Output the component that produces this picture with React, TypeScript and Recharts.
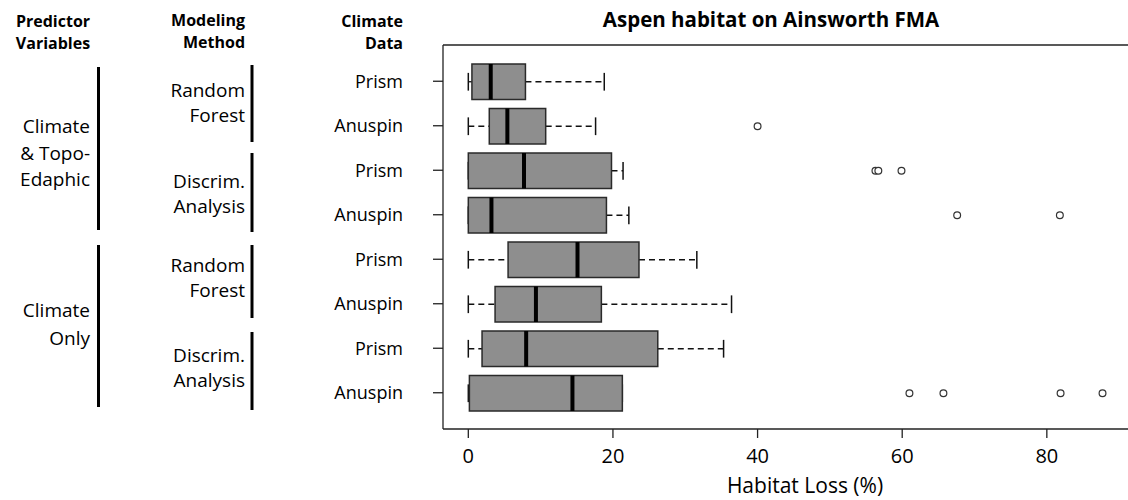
import React from 'react';
import { ComposedChart, Bar, XAxis, YAxis, CartesianGrid } from 'recharts';

// one row per model run, top to bottom
const rowIds = ['r1', 'r2', 'r3', 'r4', 'r5', 'r6', 'r7', 'r8'];
const climateData = ['Prism', 'Anuspin', 'Prism', 'Anuspin', 'Prism', 'Anuspin', 'Prism', 'Anuspin'];

// habitat loss (%) box statistics
const lowWhisker = [0, 0, 0, 0, 0, 0, 0, 0];
const lowerQuartile = [0.5, 2.9, 0, 0, 5.5, 3.7, 1.9, 0.15];
const medians = [3.1, 5.4, 7.7, 3.2, 15.1, 9.35, 8.0, 14.4];
const upperQuartile = [7.9, 10.7, 19.8, 19.1, 23.6, 18.4, 26.2, 21.3];
const highWhisker = [18.8, 17.6, 21.4, 22.2, 31.6, 36.4, 35.3, 21.3];
const outliers: number[][] = [
  [],
  [40.0],
  [56.3, 56.7, 59.9],
  [67.6, 81.8],
  [],
  [],
  [],
  [61.0, 65.7, 81.9, 87.7],
];

const xTicks = [0, 20, 40, 60, 80];
const xDomain = [-3.5, 91.5];

const FONT = '"Open Sans", sans-serif';

const rows = rowIds.map((id, i) => ({
  id,
  label: climateData[i],
  box: [lowerQuartile[i], upperQuartile[i]],
  lo: lowWhisker[i],
  q1: lowerQuartile[i],
  med: medians[i],
  q3: upperQuartile[i],
  hi: highWhisker[i],
  out: outliers[i],
}));

const labelById: Record<string, string> = {};
rows.forEach((r) => (labelById[r.id] = r.label));

// the bar gives us pixel positions of q1 and q3; everything else is placed on the same linear scale
function BoxShape(props: any) {
  const { x, y, width, height } = props;
  const d = props.payload ?? props;
  const px = (v: number) => x + ((v - d.q1) / (d.q3 - d.q1)) * width;
  const cy = y + height / 2;
  const cap = height / 4;
  return (
    <g>
      <line x1={px(d.lo)} x2={px(d.q1)} y1={cy} y2={cy} stroke="#111" strokeWidth={1.3} strokeDasharray="6 4" />
      <line x1={px(d.q3)} x2={px(d.hi)} y1={cy} y2={cy} stroke="#111" strokeWidth={1.3} strokeDasharray="6 4" />
      <line x1={px(d.lo)} x2={px(d.lo)} y1={cy - cap} y2={cy + cap} stroke="#111" strokeWidth={1.5} />
      <line x1={px(d.hi)} x2={px(d.hi)} y1={cy - cap} y2={cy + cap} stroke="#111" strokeWidth={1.5} />
      <rect x={x} y={y} width={width} height={height} fill="#8e8e8e" stroke="#2a2a2a" strokeWidth={1.5} />
      <line x1={px(d.med)} x2={px(d.med)} y1={y} y2={y + height} stroke="#000" strokeWidth={4} />
      {d.out.map((v: number, k: number) => (
        <circle key={k} cx={px(v)} cy={cy} r={3.4} fill="#fff" stroke="#333" strokeWidth={1.2} />
      ))}
    </g>
  );
}

function Annotations() {
  const reg = { fontFamily: FONT, fontSize: 19, fill: '#000' };
  const bold = { fontFamily: FONT, fontSize: 16, fontWeight: 700, fill: '#000' };
  return (
    <svg
      width={1128}
      height={500}
      style={{ position: 'absolute', left: 0, top: 0, pointerEvents: 'none' }}
    >
      <text x={771} y={27} textAnchor="middle" style={{ ...bold, fontSize: 20.5 }}>
        Aspen habitat on Ainsworth FMA
      </text>
      <text x={805} y={493} textAnchor="middle" style={{ ...reg, fontSize: 21 }}>
        Habitat Loss (%)
      </text>

      <text x={53} y={27} textAnchor="middle" style={bold}>Predictor</text>
      <text x={53} y={49} textAnchor="middle" style={bold}>Variables</text>
      <text x={245} y={26} textAnchor="end" style={bold}>Modeling</text>
      <text x={245} y={48} textAnchor="end" style={bold}>Method</text>
      <text x={403} y={27} textAnchor="end" style={bold}>Climate</text>
      <text x={403} y={49} textAnchor="end" style={bold}>Data</text>

      <text x={90} y={133} textAnchor="end" style={reg}>Climate</text>
      <text x={90} y={160} textAnchor="end" style={reg}>&amp; Topo-</text>
      <text x={90} y={186} textAnchor="end" style={reg}>Edaphic</text>
      <text x={90} y={317} textAnchor="end" style={reg}>Climate</text>
      <text x={90} y={345} textAnchor="end" style={reg}>Only</text>

      <text x={245} y={97} textAnchor="end" style={reg}>Random</text>
      <text x={245} y={122} textAnchor="end" style={reg}>Forest</text>
      <text x={245} y={188} textAnchor="end" style={reg}>Discrim.</text>
      <text x={245} y={213} textAnchor="end" style={reg}>Analysis</text>
      <text x={245} y={272} textAnchor="end" style={reg}>Random</text>
      <text x={245} y={297} textAnchor="end" style={reg}>Forest</text>
      <text x={245} y={362} textAnchor="end" style={reg}>Discrim.</text>
      <text x={245} y={387} textAnchor="end" style={reg}>Analysis</text>

      <g stroke="#000" strokeWidth={3}>
        <line x1={98.5} x2={98.5} y1={67} y2={230} />
        <line x1={98.5} x2={98.5} y1={245} y2={407} />
        <line x1={252} x2={252} y1={65} y2={142} />
        <line x1={252} x2={252} y1={153} y2={232} />
        <line x1={252} x2={252} y1={245} y2={318} />
        <line x1={252} x2={252} y1={332} y2={410} />
      </g>
    </svg>
  );
}

export default function App() {
  return (
    <div style={{ position: 'relative', width: 1128, height: 500, overflow: 'hidden', background: '#fff' }}>
      <style>{'body{margin:0}'}</style>
      <ComposedChart
        width={1130}
        height={500}
        data={rows}
        layout="vertical"
        margin={{ top: 45, right: 0, bottom: 31, left: 0 }}
      >
        {/* frame line along the top of the plot */}
        <CartesianGrid
          vertical={false}
          horizontalCoordinatesGenerator={({ offset }: any) => [offset.top]}
          stroke="#222"
          strokeWidth={1.3}
          strokeDasharray=""
        />
        <XAxis
          type="number"
          domain={xDomain}
          ticks={xTicks}
          allowDataOverflow
          height={40}
          tickSize={9}
          tickMargin={11}
          axisLine={{ stroke: '#222', strokeWidth: 1.3 }}
          tickLine={{ stroke: '#222', strokeWidth: 1.3 }}
          tick={{ fontFamily: FONT, fontSize: 20, fill: '#000' }}
        />
        <YAxis
          type="category"
          dataKey="id"
          width={443}
          padding={{ top: 14, bottom: 14 }}
          tickSize={10}
          tickMargin={30}
          tickFormatter={(v: string) => labelById[v]}
          axisLine={{ stroke: '#222', strokeWidth: 1.3 }}
          tickLine={{ stroke: '#222', strokeWidth: 1.3 }}
          tick={{ fontFamily: FONT, fontSize: 18, fill: '#000' }}
        />
        <Bar dataKey="box" barSize={35.5} shape={BoxShape} isAnimationActive={false} />
      </ComposedChart>
      <Annotations />
    </div>
  );
}
